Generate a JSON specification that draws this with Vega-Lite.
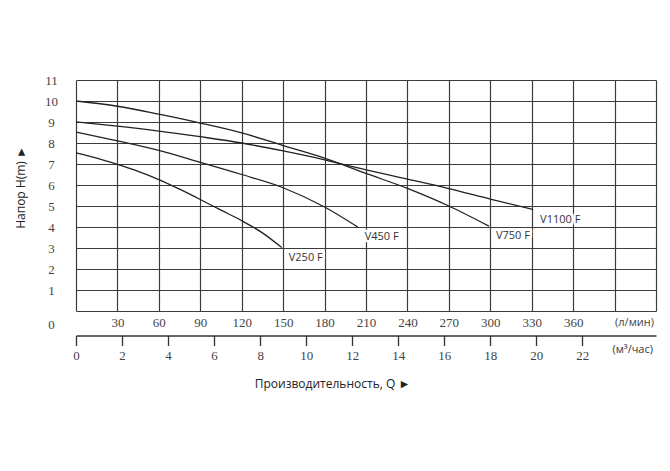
{
  "$schema": "https://vega.github.io/schema/vega-lite/v6.json",
  "width": 580,
  "height": 231,
  "autosize": "none",
  "padding": {"left": 76, "top": 80, "right": 14, "bottom": 160},
  "background": "white",
  "config": {"view": {"stroke": null}},
  "datasets": {
    "curves": [
      {"model": "V250 F", "q": 0, "h": 7.53},
      {"model": "V250 F", "q": 15, "h": 7.28},
      {"model": "V250 F", "q": 30, "h": 6.98},
      {"model": "V250 F", "q": 45, "h": 6.65},
      {"model": "V250 F", "q": 60, "h": 6.26},
      {"model": "V250 F", "q": 75, "h": 5.8},
      {"model": "V250 F", "q": 90, "h": 5.31},
      {"model": "V250 F", "q": 105, "h": 4.8},
      {"model": "V250 F", "q": 120, "h": 4.3},
      {"model": "V250 F", "q": 135, "h": 3.72},
      {"model": "V250 F", "q": 149, "h": 3.02},
      {"model": "V450 F", "q": 0, "h": 8.52},
      {"model": "V450 F", "q": 30, "h": 8.1},
      {"model": "V450 F", "q": 60, "h": 7.65},
      {"model": "V450 F", "q": 90, "h": 7.08},
      {"model": "V450 F", "q": 120, "h": 6.5},
      {"model": "V450 F", "q": 150, "h": 5.87},
      {"model": "V450 F", "q": 180, "h": 4.95},
      {"model": "V450 F", "q": 204, "h": 4.0},
      {"model": "V750 F", "q": 0, "h": 10.0},
      {"model": "V750 F", "q": 30, "h": 9.75},
      {"model": "V750 F", "q": 60, "h": 9.37},
      {"model": "V750 F", "q": 90, "h": 8.95},
      {"model": "V750 F", "q": 120, "h": 8.48},
      {"model": "V750 F", "q": 150, "h": 7.88},
      {"model": "V750 F", "q": 180, "h": 7.28},
      {"model": "V750 F", "q": 210, "h": 6.55},
      {"model": "V750 F", "q": 240, "h": 5.84},
      {"model": "V750 F", "q": 270, "h": 5.0},
      {"model": "V750 F", "q": 299, "h": 4.04},
      {"model": "V1100 F", "q": 0, "h": 9.0},
      {"model": "V1100 F", "q": 30, "h": 8.8},
      {"model": "V1100 F", "q": 60, "h": 8.57},
      {"model": "V1100 F", "q": 90, "h": 8.3},
      {"model": "V1100 F", "q": 120, "h": 8.0},
      {"model": "V1100 F", "q": 150, "h": 7.62},
      {"model": "V1100 F", "q": 180, "h": 7.2},
      {"model": "V1100 F", "q": 210, "h": 6.72},
      {"model": "V1100 F", "q": 240, "h": 6.28},
      {"model": "V1100 F", "q": 270, "h": 5.83},
      {"model": "V1100 F", "q": 300, "h": 5.33},
      {"model": "V1100 F", "q": 331, "h": 4.83}
    ],
    "m3": [
      {"m3h": 0}, {"m3h": 2}, {"m3h": 4}, {"m3h": 6}, {"m3h": 8}, {"m3h": 10},
      {"m3h": 12}, {"m3h": 14}, {"m3h": 16}, {"m3h": 18}, {"m3h": 20}, {"m3h": 22}
    ]
  },
  "layer": [
    {
      "data": {"name": "curves"},
      "encoding": {
        "x": {
          "field": "q", "type": "quantitative",
          "scale": {"domain": [0, 420], "nice": false, "zero": false},
          "axis": {
            "orient": "bottom",
            "values": [0, 30, 60, 90, 120, 150, 180, 210, 240, 270, 300, 330, 360, 390, 420],
            "labelExpr": "datum.value == 0 || datum.value == 420 ? '' : (datum.value == 390 ? '(л/мин)' : datum.label)",
            "domain": false,
            "ticks": false,
            "tickSize": 0,
            "grid": true,
            "gridColor": "#3c3c3c",
            "gridWidth": 1.2,
            "labelFlush": false,
            "labelOverlap": false,
            "labelPadding": 5,
            "labelFont": {"condition": {"test": "datum.value == 390", "value": "Open Sans"}, "value": "Liberation Serif"},
            "labelFontSize": {"condition": {"test": "datum.value == 390", "value": 11}, "value": 13},
            "labelAlign": {"condition": {"test": "datum.value == 390", "value": "left"}, "value": "center"},
            "labelColor": "#444444",
            "title": "Производительность, Q  ►",
            "titleFont": "Open Sans",
            "titleFontSize": 12,
            "titleFontWeight": "normal",
            "titleColor": "#222222",
            "titleX": 256,
            "titleY": 72,
            "titleAlign": "center",
            "titleBaseline": "middle"
          }
        },
        "y": {
          "field": "h", "type": "quantitative",
          "scale": {"domain": [0, 11], "nice": false},
          "axis": {
            "values": [0, 1, 2, 3, 4, 5, 6, 7, 8, 9, 10, 11],
            "labelExpr": "datum.value == 0 ? ['', '', '0'] : datum.label",
            "labelLineHeight": 13.5,
            "domain": false,
            "ticks": false,
            "tickSize": 0,
            "grid": true,
            "gridColor": "#3c3c3c",
            "gridWidth": 1.2,
            "labelAlign": "center",
            "labelBaseline": "middle",
            "labelPadding": 25,
            "labelFlush": false,
            "labelOverlap": false,
            "labelFont": "Liberation Serif",
            "labelFontSize": 13,
            "labelColor": "#444444",
            "title": "Напор H(m)  ►",
            "titleFont": "Open Sans",
            "titleFontSize": 12,
            "titleFontWeight": "normal",
            "titleColor": "#222222",
            "titleX": -56,
            "titleY": 107,
            "titleAngle": -90,
            "titleAlign": "center",
            "titleBaseline": "middle"
          }
        }
      },
      "layer": [
        {
          "mark": {"type": "line", "interpolate": "monotone", "color": "#222222", "strokeWidth": 1.3},
          "encoding": {"detail": {"field": "model"}}
        },
        {
          "transform": [
            {"joinaggregate": [{"op": "max", "field": "q", "as": "qmax"}], "groupby": ["model"]},
            {"filter": "datum.q == datum.qmax"}
          ],
          "mark": {"type": "text", "align": "left", "baseline": "middle", "dx": 7, "dy": 10, "font": "Open Sans", "fontSize": 11, "fill": "white", "stroke": "white", "strokeWidth": 5, "strokeJoin": "round"},
          "encoding": {"text": {"field": "model"}}
        },
        {
          "transform": [
            {"joinaggregate": [{"op": "max", "field": "q", "as": "qmax"}], "groupby": ["model"]},
            {"filter": "datum.q == datum.qmax"}
          ],
          "mark": {"type": "text", "align": "left", "baseline": "middle", "dx": 7, "dy": 10, "font": "Open Sans", "fontSize": 11, "color": "#333333"},
          "encoding": {"text": {"field": "model"}}
        }
      ]
    },
    {
      "data": {"name": "m3"},
      "mark": {"type": "point", "opacity": 0},
      "encoding": {
        "x": {
          "field": "m3h", "type": "quantitative",
          "scale": {"domain": [0, 25.2], "nice": false, "zero": false},
          "axis": {
            "orient": "bottom",
            "offset": 24.5,
            "values": [0, 2, 4, 6, 8, 10, 12, 14, 16, 18, 20, 22],
            "grid": false,
            "domain": true,
            "domainColor": "#333333",
            "domainWidth": 1.3,
            "ticks": true,
            "tickColor": "#333333",
            "tickSize": 10,
            "tickWidth": 1.3,
            "labelFlush": false,
            "labelOverlap": false,
            "labelPadding": 4,
            "labelFont": "Liberation Serif",
            "labelFontSize": 13,
            "labelColor": "#444444",
            "title": "(м³/час)",
            "titleFont": "Open Sans",
            "titleFontSize": 11,
            "titleFontWeight": "normal",
            "titleColor": "#333333",
            "titleX": 536,
            "titleY": 14,
            "titleAlign": "left",
            "titleBaseline": "middle"
          }
        }
      }
    }
  ],
  "resolve": {"scale": {"x": "independent"}}
}
